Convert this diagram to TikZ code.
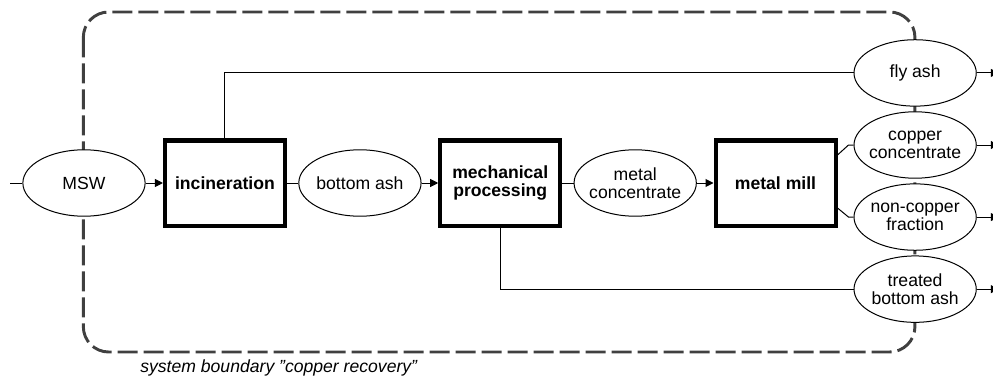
\documentclass[tikz,border=0pt]{standalone}
\usepackage{fontspec}
\setmainfont{Liberation Sans}
\usetikzlibrary{positioning,shapes.geometric,arrows.meta}
\newcommand{\flowfont}{\fontsize{13.2pt}{13.5pt}\selectfont}

\begin{document}
\begin{tikzpicture}[
box/.style={draw,rectangle,line width=3pt,minimum width=90pt,minimum height=63.75pt,
    font=\flowfont\bfseries,align=center},
material/.style={draw,ellipse,fill=white,line width=.75pt,minimum width=91.7pt,
    minimum height=49.8pt,inner xsep=-3pt,inner ysep=0pt,font=\flowfont,align=center},
link/.style={draw,line width=.75pt},
arr/.style={link,-{Triangle[length=6pt,width=6pt]}},
sysbound/.style={draw=black!75,line width=2.2pt,dash pattern=on 15pt off 4.5pt,rounded corners=19pt}]
\useasboundingbox (0,0) rectangle (744.75pt,-283.5pt);
% system boundary, drawn first so the ellipses cover it
\draw [sysbound] (62.5pt,-9pt) rectangle (686.2pt,-264pt);

\node (msw) [material] at (63pt,-137.25pt) {MSW};
\node (incin) [box,right=13pt of msw] {incineration};
\node (btmash) [material,right=8.5pt of incin] {bottom ash};
\node (mech) [box,right=12.5pt of btmash] {mechanical\\processing};
\node (metconc) [material,right=8.5pt of mech] {metal\\concentrate};
\node (mill) [box,right=12.5pt of metconc] {metal mill};

\node (copper) [material,right=12pt of mill,yshift=28.5pt] {copper\\concentrate};
\node (flyash) [material,above=3.5pt of copper] {fly ash};
\node (noncu) [material,below=3.5pt of copper] {non-copper\\fraction};
\node (treated) [material,below=3.5pt of noncu] {treated\\bottom ash};

\node (caption) [anchor=west,font=\flowfont\itshape] at (101.7pt,-276pt)
    {system boundary "copper recovery"};

% main line
\coordinate (src) at ([xshift=-9pt]msw.west);
\draw [link] (src) -- (msw);
\draw [arr] (msw) -- (incin);
\draw [link] (incin) -- (btmash);
\draw [arr] (btmash) -- (mech);
\draw [link] (mech) -- (metconc);
\draw [arr] (metconc) -- (mill);

% side streams
\draw [link] (incin.north) |- (flyash);
\draw [link] (mech.south) |- (treated);
\draw [link] ([yshift=21pt]mill.east) -- ([xshift=-3.75pt]copper.west) -- (copper.west);
\draw [link] ([yshift=-18.75pt]mill.east) -- ([xshift=-3.75pt]noncu.west) -- (noncu.west);

% outputs
\coordinate (flyash-out) at ([xshift=16.5pt]flyash.east);
\coordinate (copper-out) at ([xshift=16.5pt]copper.east);
\coordinate (noncu-out) at ([xshift=16.5pt]noncu.east);
\coordinate (treated-out) at ([xshift=16.5pt]treated.east);
\draw [arr] (flyash) -- (flyash-out);
\draw [arr] (copper) -- (copper-out);
\draw [arr] (noncu) -- (noncu-out);
\draw [arr] (treated) -- (treated-out);
\end{tikzpicture}
\end{document}
